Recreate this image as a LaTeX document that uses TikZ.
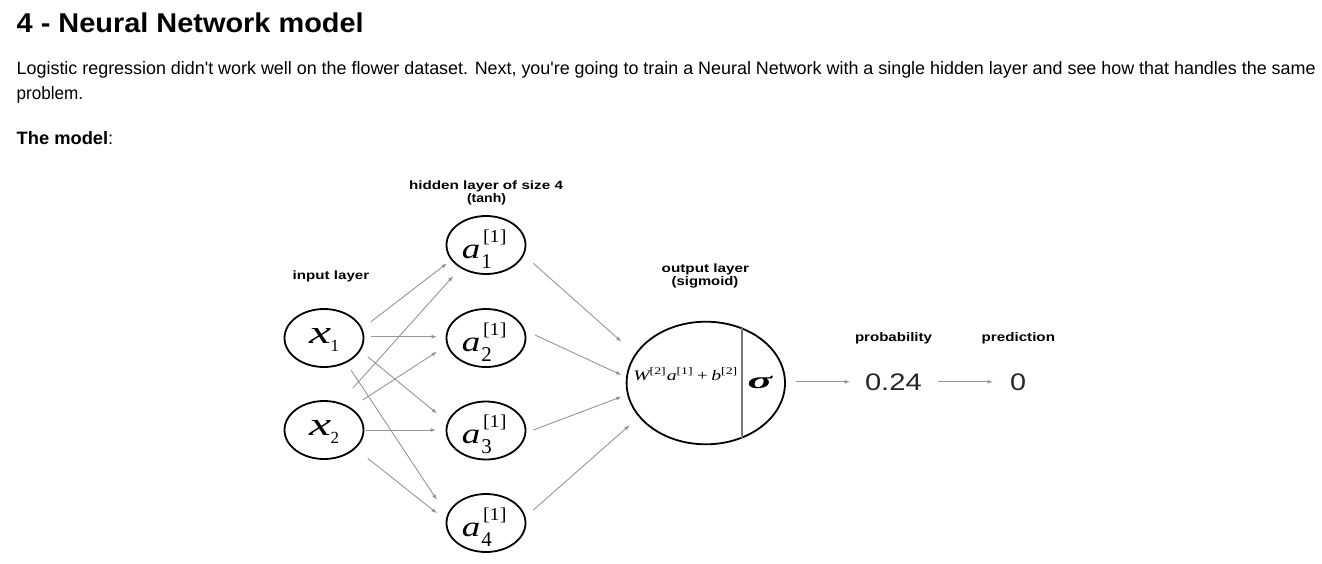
\documentclass[tikz,border=0pt]{standalone}
\usepackage{fontspec}
\setmainfont{Liberation Sans}
\newfontfamily\serif{Liberation Serif}
\usetikzlibrary{arrows.meta,shapes.geometric}
\definecolor{linegray}{RGB}{150,150,150}
\definecolor{divgray}{RGB}{120,120,120}
\definecolor{numgray}{RGB}{40,40,40}
\newcommand\anode[1]{\resizebox{18.5pt}{13.5pt}{\serif\itshape a}\kern1pt\rlap{\raisebox{-10pt}{\serif\fontsize{21}{21}\selectfont #1}}\kern1.6pt\raisebox{15.6pt}{\resizebox*{23.4pt}{15pt}{\serif [1]}}\kern3.6pt}
\newcommand\xnode[1]{\resizebox{22pt}{15pt}{\serif\itshape x}\kern-0.5pt\raisebox{-8.4pt}{\serif\fontsize{17}{17}\selectfont #1}}
\begin{document}
\begin{tikzpicture}[x=1pt,y=-1pt,
  txt/.style={anchor=base west,inner sep=0pt,outer sep=0pt},
  unit/.style={draw,ellipse,line width=1.8pt,minimum width=79pt,minimum height=58pt,inner sep=0pt},
  hid/.style={unit,text height=26pt,text depth=0pt},
  inp/.style={unit,text height=10.6pt,text depth=0pt},
  conn/.style={draw=linegray,line width=0.9pt,-{Latex[length=5.5pt,width=4pt]}},
]
\fill[white] (0,0) rectangle (1322,563);
\useasboundingbox (0,0) rectangle (1322,563);

% page text
\node[txt] (title) at (16.7,32.3) {\resizebox{347pt}{19.7pt}{\bfseries 4 - Neural Network model}};
\node[txt] (body1) at (16.7,74) {\resizebox{1299pt}{13pt}{Logistic regression didn\textquotesingle t work well on the flower dataset. Next, you\textquotesingle re going to train a Neural Network with a single hidden layer and see how that handles the same}};
\node[txt] (body2) at (16.7,99.3) {\resizebox{66.5pt}{13pt}{problem.}};
\node[txt] (model) at (16.7,144) {\resizebox{96.6pt}{13pt}{\textbf{The model}:}};

% layer labels
\node[txt] (lhid) at (409,189.7) {\resizebox{154pt}{8.7pt}{\bfseries hidden layer of size 4}};
\node[txt] (ltanh) at (467,202.3) {\resizebox{39pt}{9pt}{\bfseries (tanh)}};
\node[txt] (linp) at (292.7,279.3) {\resizebox{76.6pt}{8.7pt}{\bfseries input layer}};
\node[txt] (lout) at (661.7,272.7) {\resizebox{87.3pt}{8.7pt}{\bfseries output layer}};
\node[txt] (lsig) at (671.7,285.5) {\resizebox{66.7pt}{9pt}{\bfseries (sigmoid)}};
\node[txt] (lprob) at (855,341.7) {\resizebox{77pt}{9pt}{\bfseries probability}};
\node[txt] (lpred) at (981.7,341.7) {\resizebox{73.3pt}{9pt}{\bfseries prediction}};

% units
\node[inp] (x1) at (324,338) {\xnode{1}};
\node[inp] (x2) at (324,430) {\xnode{2}};
\node[hid] (a1) at (486,245) {\anode{1}};
\node[hid] (a2) at (486,338) {\anode{2}};
\node[hid] (a3) at (486,430.5) {\anode{3}};
\node[hid] (a4) at (486,523) {\anode{4}};
\node[draw,ellipse,line width=1.8pt,minimum width=158.4pt,minimum height=122.6pt,inner sep=0pt] (out) at (705.8,383) {};
\draw[draw=divgray,line width=1.6pt] ([shift={(36,-54.6)}]out.center) -- ([shift={(36,54.6)}]out.center);
\node[txt] (formula) at (633.3,380) {\resizebox{105pt}{12.3pt}{\serif{\itshape W}\textsuperscript{[2]}{\itshape a}\textsuperscript{[1]}\,+\,{\itshape b}\textsuperscript{[2]}}};
\node[txt] (sig) at (747.7,388) {\resizebox{24.6pt}{12.3pt}{\serif\bfseries\itshape σ}};

\node[txt,text=numgray] (p) at (865,390) {\resizebox{56.7pt}{16.7pt}{0.24}};
\node[txt,text=numgray] (d) at (1010,390) {\resizebox{16pt}{16.7pt}{0}};

% input -> hidden
\draw[conn] ([shift={(47,-16.3)}]x1.center) -- ([shift={(-39,18.3)}]a1.center);
\draw[conn] ([shift={(47,-1.3)}]x1.center) -- ([shift={(-49,-1.3)}]a2.center);
\draw[conn] ([shift={(43.7,18.7)}]x1.center) -- ([shift={(-49,-17)}]a3.center);
\draw[conn] ([shift={(27,32)}]x1.center) -- ([shift={(-49,-23)}]a4.center);
\draw[conn] ([shift={(28.7,-41.7)}]x2.center) -- ([shift={(-32.7,31)}]a1.center);
\draw[conn] ([shift={(38.7,-30)}]x2.center) -- ([shift={(-49,13.7)}]a2.center);
\draw[conn] ([shift={(42,0)}]x2.center) -- ([shift={(-50,-0.5)}]a3.center);
\draw[conn] ([shift={(43.7,28.3)}]x2.center) -- ([shift={(-49,-9.7)}]a4.center);
% hidden -> output
\draw[conn] ([shift={(47.3,18.3)}]a1.center) -- ([shift={(-84.3,-41.3)}]out.center);
\draw[conn] ([shift={(49,-3)}]a2.center) -- ([shift={(-84.3,-8)}]out.center);
\draw[conn] ([shift={(47.3,-0.5)}]a3.center) -- ([shift={(-84.3,13.7)}]out.center);
\draw[conn] ([shift={(47.3,-13)}]a4.center) -- ([shift={(-76,42)}]out.center);
% output -> probability -> prediction
\draw[conn] ([xshift=10pt]out.east |- p.west) -- ([xshift=-15pt]p.west);
\draw[conn] ([xshift=16pt]p.east) -- ([xshift=-17pt]d.west);
\end{tikzpicture}
\end{document}
